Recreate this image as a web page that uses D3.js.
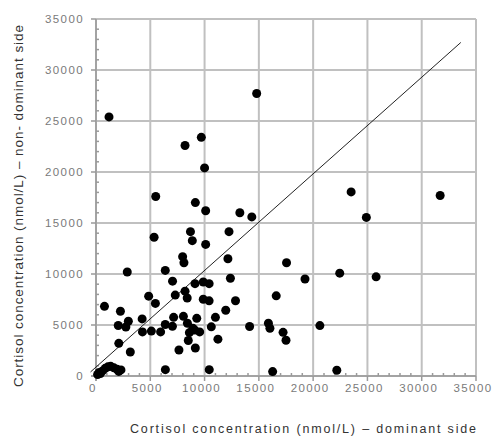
<!DOCTYPE html>
<html>
<head>
  <style>
    body{
      margin:0;
      background:#fff;
      font-family: "Liberation Sans", Arial, sans-serif;
    }
    .tick-label{
      fill:#7a7a7a;
      font-size:11.5px;
      letter-spacing:1.4px;
    }
    .axis-title{
      fill:#333;
      font-size:12.5px;
    }
  </style>
  <script src="https://d3js.org/d3.v7.min.js"></script>
</head>
<body>
<div class="chart"></div>
<script>
// cortisol, dominant side (x) vs non-dominant side (y), nmol/L
const dominant = [
  1200, 14800, 8200, 9700, 10000, 5500, 9150, 10100, 13250, 14350,
  23500, 24900, 31700, 5350, 8700, 8870, 12250, 10100, 7980, 8100,
  12150, 17550, 2880, 6380, 12380, 19250, 22450, 25800, 7050, 8200,
  9120, 9880, 10420, 7300, 4850, 5470, 8400, 9880, 10420, 12850,
  16600, 780, 2250, 11950, 4250, 2980, 7150, 8050, 9280, 11000,
  2050, 2750, 6380, 7040, 8420, 8920, 10620, 14150, 15880, 16020,
  20620, 4280, 5100, 5950, 8600, 9100, 9550, 17230, 17500, 11230,
  8500, 2100, 3160, 7640, 9150, 6390, 10430, 16270, 22180,
  150, 400, 600, 850, 1100, 1350, 1650, 1950, 2300, 2100, 300
];
const nonDominant = [
  25400, 27700, 22600, 23400, 20400, 17600, 17000, 16200, 16000, 15600,
  18050, 15550, 17700, 13600, 14150, 13270, 14150, 12900, 11700, 11100,
  11500, 11100, 10200, 10350, 9580, 9510, 10080, 9720, 9300, 8320,
  9050, 9220, 9050, 7930, 7830, 7120, 7650, 7520, 7370, 7380,
  7860, 6830, 6350, 6450, 5600, 5370, 5750, 5850, 5650, 5750,
  4950, 4800, 5050, 4870, 5170, 4680, 4820, 4850, 5170, 4680,
  4940, 4320, 4400, 4320, 4250, 4500, 4320, 4280, 3500, 3610,
  3480, 3200, 2350, 2550, 2750, 620, 620, 430, 560,
  150, 250, 500, 750, 900, 950, 800, 650, 600, 450, 350
];
// reference line end points
const lineX = [-500, 33600];
const lineY = [400, 32700];
const majorTicks = [0, 5000, 10000, 15000, 20000, 25000, 30000, 35000];

const width = 495, height = 440;
const margin = {left: 96, top: 19, right: 19, bottom: 64};
const plotW = width - margin.left - margin.right;
const plotH = height - margin.top - margin.bottom;

const svg = d3.select('.chart').append('svg')
  .attr('width', width)
  .attr('height', height);

const x = d3.scaleLinear().domain([0, 35000]).range([margin.left, margin.left + plotW]);
const y = d3.scaleLinear().domain([0, 35000]).range([margin.top + plotH, margin.top]);

// grid as a single path
const gridPath = d3.path();
majorTicks.forEach(t => {
  gridPath.moveTo(x(t), y(0));
  gridPath.lineTo(x(t), y(35000));
  gridPath.moveTo(x(0), y(t));
  gridPath.lineTo(x(35000), y(t));
});
svg.append('path')
  .attr('d', gridPath.toString())
  .attr('fill', 'none')
  .attr('stroke', '#c0c0c0')
  .attr('stroke-width', 2);

// axis lines with outer major ticks and inner minor ticks
const minor = d3.range(0, 35001, 1000).filter(v => v % 5000 !== 0);
const axisTop = svg.append('g').attr('stroke', '#9a9a9a').attr('stroke-width', 1.5);
const seg = (x1, y1, x2, y2) => axisTop.append('line')
  .attr('x1', x1).attr('y1', y1).attr('x2', x2).attr('y2', y2);
seg(x(0), y(0) + 5, x(0), y(35000));
seg(x(0) - 5, y(0), x(35000), y(0));
majorTicks.forEach(t => {
  seg(x(0) - 5, y(t), x(0), y(t));
  seg(x(t), y(0), x(t), y(0) + 5);
});
minor.forEach(t => {
  seg(x(0), y(t), x(0) + 3, y(t));
  seg(x(t), y(0), x(t), y(0) - 3);
});

// tick labels
svg.append('g').selectAll('text').data(majorTicks).join('text')
  .attr('class', 'tick-label')
  .attr('x', 84)
  .attr('y', d => y(d) + 4)
  .attr('text-anchor', 'end')
  .text(d => d);
svg.append('g').selectAll('text').data(majorTicks).join('text')
  .attr('class', 'tick-label')
  .attr('x', d => x(d) - 3)
  .attr('y', 392)
  .attr('text-anchor', 'middle')
  .text(d => d);

// reference line
svg.append('line')
  .attr('x1', x(lineX[0])).attr('y1', y(lineY[0]))
  .attr('x2', x(lineX[1])).attr('y2', y(lineY[1]))
  .attr('stroke', '#222').attr('stroke-width', 1);

// points
svg.append('g').selectAll('circle').data(dominant).join('circle')
  .attr('cx', d => x(d))
  .attr('cy', (d, i) => y(nonDominant[i]))
  .attr('r', 4.5)
  .attr('fill', '#000');

// titles
svg.append('text')
  .attr('class', 'axis-title')
  .attr('x', 303).attr('y', 433)
  .attr('text-anchor', 'middle')
  .attr('textLength', 346)
  .attr('lengthAdjust', 'spacing')
  .text('Cortisol concentration (nmol/L)  – dominant side');
svg.append('text')
  .attr('class', 'axis-title')
  .attr('transform', 'translate(23,206) rotate(-90)')
  .attr('text-anchor', 'middle')
  .attr('textLength', 362)
  .attr('lengthAdjust', 'spacing')
  .style('font-size', '13.5px')
  .text('Cortisol concentration (nmol/L) – non- dominant side');
</script>
</body>
</html>
